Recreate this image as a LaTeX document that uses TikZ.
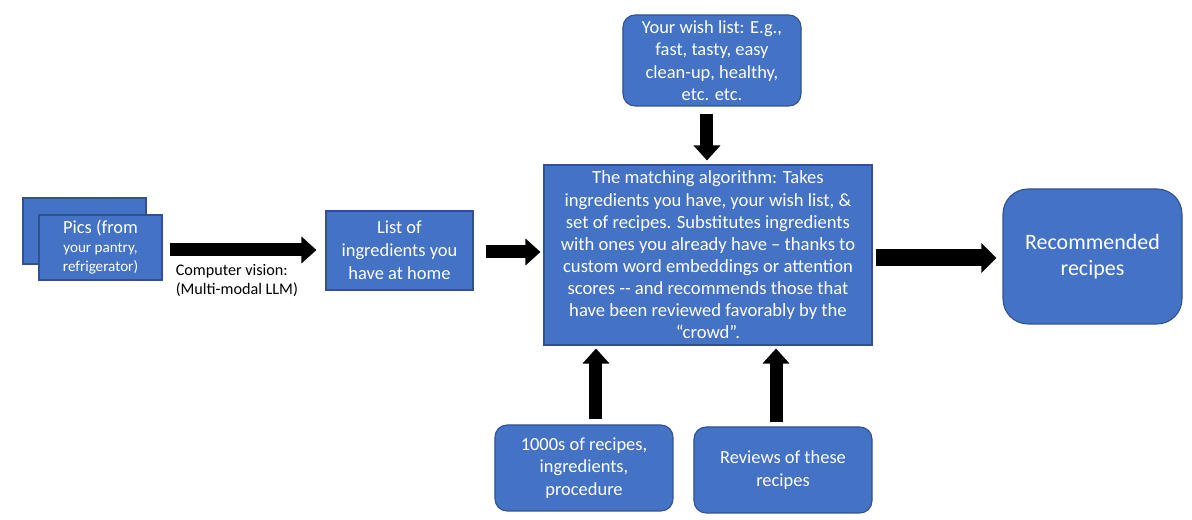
\documentclass[tikz,border=0pt]{standalone}
\usepackage{fontspec}
\setmainfont{Carlito}
\usetikzlibrary{arrows.meta}
\definecolor{boxblue}{HTML}{4472C4}
\definecolor{boxline}{HTML}{2F528F}
\tikzstyle{block} = [rectangle, text centered, align=center, draw=boxline, line width=0.6pt, fill=boxblue, text=white, inner sep=2pt]
\tikzstyle{plain} = [block, font=\fontsize{10.5}{13.2}\selectfont]
\tikzstyle{roundbox} = [block, rounded corners=0.24cm, font=\fontsize{10.5}{12.8}\selectfont]
\tikzstyle{arrow} = [line width=0.26cm, -{Triangle[length=0.3cm, width=0.52cm]}]
\tikzstyle{bigarrow} = [line width=0.34cm, -{Triangle[length=0.3cm, width=0.58cm]}]

\begin{document}
\begin{tikzpicture}[node distance=4cm]
	\useasboundingbox (-14.16,-5.3) rectangle (9.68,5.1);
	\node (algo) [block, minimum width=6.56cm, minimum height=3.6cm, font=\fontsize{10.6}{12.6}\selectfont] {The matching algorithm: Takes\\ingredients you have, your wish list, \&\\set of recipes. Substitutes ingredients\\with ones you already have -- thanks to\\custom word embeddings or attention\\scores {-}{-} and recommends those that\\have been reviewed favorably by the\\``crowd''.};
	\node (wish) [roundbox, above of=algo, xshift=0.08cm, yshift=-0.11cm, minimum width=3.56cm, minimum height=1.82cm] {Your wish list: E.g.,\\fast, tasty, easy\\clean-up, healthy,\\etc. etc.};
	\node (recipes) [roundbox, below of=algo, xshift=-2.48cm, yshift=-0.26cm, minimum width=3.56cm, minimum height=1.72cm] {1000s of recipes,\\ingredients,\\procedure};
	\node (reviews) [roundbox, below of=algo, xshift=1.5cm, yshift=-0.3cm, minimum width=3.56cm, minimum height=1.72cm] {Reviews of these\\recipes};
	\node (rec) [block, right of=algo, xshift=3.69cm, yshift=-0.03cm, rounded corners=0.5cm, minimum width=3.58cm, minimum height=2.7cm, font=\fontsize{12.5}{14.5}\selectfont] {Recommended\\recipes};
	\node (list) [plain, left of=algo, xshift=-2.17cm, yshift=0.09cm, minimum width=2.94cm, minimum height=1.58cm] {List of\\ingredients you\\have at home};
	\node (picsback) [block, left of=list, xshift=-2.3cm, yshift=0.39cm, minimum width=2.46cm, minimum height=1.32cm] {};
	\node (pics) [block, left of=list, xshift=-1.98cm, yshift=0.06cm, minimum width=2.46cm, minimum height=1.3cm, font=\fontsize{8.6}{10.8}\selectfont] {{\fontsize{10.5}{12}\selectfont Pics (from}\\your pantry,\\refrigerator)};
	\draw [arrow] ([xshift=0.14cm, yshift=-0.05cm]pics.east) -- node[pos=0, anchor=north west, yshift=-0.13cm, xshift=-0.04cm, inner sep=1pt, align=left, font=\fontsize{9.2}{10.4}\selectfont] {Computer vision:\\(Multi-modal LLM)} ([xshift=-0.18cm, yshift=-0.05cm]pics.east -| list.west);
	\draw [arrow] ([xshift=0.24cm, yshift=-0.03cm]list.east) -- ([xshift=-0.06cm, yshift=-0.03cm]list.east -| algo.west);
	\draw [bigarrow] ([xshift=0.06cm, yshift=-0.06cm]algo.east) -- ([xshift=-0.12cm, yshift=-0.06cm]algo.east -| rec.west);
	\draw [arrow] ([xshift=-0.1cm, yshift=-0.14cm]wish.south) -- ([xshift=-0.1cm, yshift=0.08cm]wish.south |- algo.north);
	\draw [arrow] ([xshift=0.24cm, yshift=0.1cm]recipes.north) -- ([xshift=0.24cm, yshift=-0.06cm]recipes.north |- algo.south);
	\draw [arrow] ([xshift=-0.14cm, yshift=0.08cm]reviews.north) -- ([xshift=-0.14cm, yshift=-0.06cm]reviews.north |- algo.south);
\end{tikzpicture}
\end{document}
